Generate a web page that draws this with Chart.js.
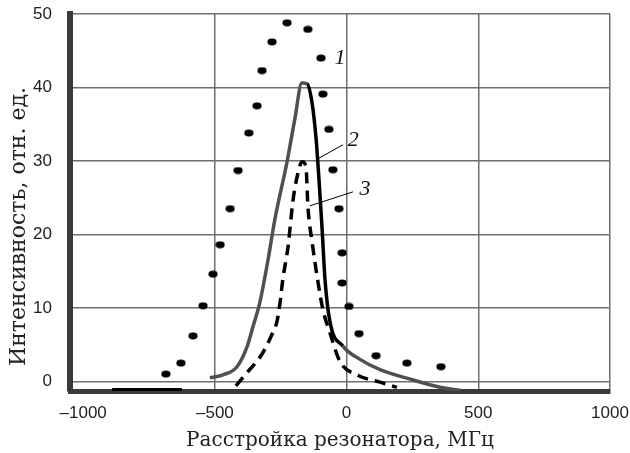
<!DOCTYPE html>
<html>
<head>
<meta charset="utf-8">
<script src="https://cdn.jsdelivr.net/npm/chart.js@4/dist/chart.umd.min.js"></script>
<style>
    html, body { margin: 0; padding: 0; background: #fff; }
    #wrap { width: 630px; height: 453px; }
</style>
</head>
<body>
<div id="wrap"><canvas id="resonanceChart"></canvas></div>
<script>
// --- Data ---
const xTicks = [-1000, -500, 0, 500, 1000];
const yTicks = [0, 10, 20, 30, 40, 50];
const xTitle = 'Расстройка резонатора, МГц';
const yTitle = 'Интенсивность, отн. ед.';

// curve 1: dots
const curve1X = [-686, -629, -583, -545, -507, -480, -442, -412, -371, -340, -321, -283, -226,
    -147, -97, -90, -67, -52, -29, -17, -17, 9, 47, 112, 229, 358];
const curve1Y = [1.0, 2.5, 6.2, 10.3, 14.6, 18.6, 23.5, 28.7, 33.8, 37.5, 42.3, 46.2, 48.8,
    47.9, 44.0, 39.1, 34.3, 28.8, 23.5, 17.5, 13.4, 10.2, 6.5, 3.5, 2.5, 2.0];

// curve 2: solid
const curve2X = [-519, -469, -416, -378, -355, -329, -298, -272, -226, -196, -170, -150,
    -131, -116, -105, -93, -82, -63, -14, 51, 127, 252, 355, 431];
const curve2Y = [0.5, 0.9, 2.0, 4.7, 7.5, 10.8, 16.6, 22.1, 29.9, 35.8, 40.6, 40.5,
    37.9, 33.1, 27.6, 20.8, 13.9, 8.1, 4.8, 3.0, 1.6, 0.2, -0.8, -1.2];

// curve 3: dashed
const curve3X = [-420, -378, -325, -287, -264, -253, -242, -222, -204, -185, -169, -154, -147,
    -131, -112, -90, -63, -25, 39, 127, 191];
const curve3Y = [-0.6, 1.2, 3.5, 6.1, 8.2, 10.6, 13.9, 18.4, 24.5, 28.3, 29.9, 29.2, 23.9,
    19.0, 14.3, 9.8, 6.6, 2.7, 0.9, -0.1, -0.8];

// black stroke lying on the axis at the left
const baseX = [-890, -625];
const baseY = [-1.15, -1.15];

// curve numbers and their leader lines
const curveLabels = ['1', '2', '3'];
const curveLabelX = [-25, 25, 70];
const curveLabelY = [44.0, 32.8, 26.1];
const leader2X = [-109, -14];
const leader2Y = [30.3, 32.2];
const leader3X = [-139, 24];
const leader3Y = [23.9, 25.8];

function toPoints(xs, ys) {
    return xs.map((x, i) => ({ x: x, y: ys[i] }));
}

// slightly flattened dot like in the print
const dot = document.createElement('canvas');
dot.width = 10;
dot.height = 8;
(function () {
    const c = dot.getContext('2d');
    c.fillStyle = '#000';
    c.beginPath();
    c.ellipse(5, 4, 4.6, 3.4, 0, 0, Math.PI * 2);
    c.fill();
})();

// curve numbers + vertical axis title (placed a bit lower than centre, as printed)
const annotations = {
    id: 'annotations',
    afterDatasetsDraw(chart) {
        const ctx = chart.ctx;
        const xs = chart.scales.x, ys = chart.scales.y;
        ctx.save();
        ctx.fillStyle = '#111';
        ctx.font = 'italic 22px "Liberation Serif"';
        ctx.textAlign = 'center';
        ctx.textBaseline = 'middle';
        curveLabels.forEach((t, i) => {
            ctx.fillText(t, xs.getPixelForValue(curveLabelX[i]), ys.getPixelForValue(curveLabelY[i]));
        });
        ctx.restore();
    },
    afterDraw(chart) {
        const ctx = chart.ctx;
        const area = chart.chartArea;
        ctx.save();
        ctx.translate(19, (area.top + area.bottom) / 2 + 24);
        ctx.rotate(-Math.PI / 2);
        ctx.fillStyle = '#222';
        ctx.font = '22px "DejaVu Serif"';
        ctx.textAlign = 'center';
        ctx.textBaseline = 'middle';
        ctx.fillText(yTitle, 0, 0);
        ctx.restore();
    }
};

const ctx = document.getElementById('resonanceChart').getContext('2d');
new Chart(ctx, {
    type: 'line',
    data: {
        datasets: [
            {
                label: '1',
                data: toPoints(curve1X, curve1Y),
                showLine: false,
                pointStyle: dot,
                pointRadius: 4
            },
            {
                label: '2',
                data: toPoints(curve2X, curve2Y),
                borderColor: '#505050',
                borderWidth: 3.5,
                pointRadius: 0,
                cubicInterpolationMode: 'monotone',
                segment: {
                    borderColor: c => (c.p0.parsed.x >= -150 && c.p0.parsed.x < -60) ? '#000' : '#505050'
                }
            },
            {
                label: '3',
                data: toPoints(curve3X, curve3Y),
                borderColor: '#000',
                borderWidth: 3.5,
                borderDash: [11, 7],
                pointRadius: 0,
                cubicInterpolationMode: 'monotone'
            },
            {
                label: 'base',
                data: toPoints(baseX, baseY),
                borderColor: '#000',
                borderWidth: 4,
                pointRadius: 0
            },
            {
                label: 'leader 2',
                data: toPoints(leader2X, leader2Y),
                borderColor: '#000',
                borderWidth: 1,
                pointRadius: 0
            },
            {
                label: 'leader 3',
                data: toPoints(leader3X, leader3Y),
                borderColor: '#000',
                borderWidth: 1,
                pointRadius: 0
            }
        ]
    },
    options: {
        responsive: true,
        maintainAspectRatio: false,
        animation: false,
        layout: { padding: { left: 0, right: 20, top: 14, bottom: 0 } },
        plugins: {
            legend: { display: false },
            tooltip: { enabled: false }
        },
        scales: {
            x: {
                type: 'linear',
                min: -1050,
                max: 1000,
                afterFit: s => { s.height = 62; s.paddingLeft = 0; s.paddingRight = 0; },
                afterBuildTicks: s => { s.ticks = xTicks.map(v => ({ value: v })); },
                border: { color: '#3a3a3a', width: 5 },
                grid: {
                    drawTicks: false,
                    lineWidth: 1.5,
                    color: c => (c.tick && c.tick.value === -1000) ? 'rgba(0,0,0,0)' : '#6e6e6e'
                },
                ticks: {
                    padding: 12,
                    color: '#222',
                    font: { family: '"Liberation Sans"', size: 17 },
                    callback: v => (v < 0 ? '\u2013' + Math.abs(v) : String(v))
                },
                title: {
                    display: true,
                    text: xTitle,
                    color: '#222',
                    font: { family: '"DejaVu Serif"', size: 20 },
                    padding: { top: 0, bottom: 0 }
                }
            },
            y: {
                min: -1.3,
                max: 50,
                afterFit: s => { s.width = 70; s.paddingTop = 0; s.paddingBottom = 0; },
                afterBuildTicks: s => { s.ticks = yTicks.map(v => ({ value: v })); },
                border: { color: '#3a3a3a', width: 6 },
                grid: {
                    drawTicks: false,
                    lineWidth: 1.5,
                    color: '#6e6e6e'
                },
                ticks: {
                    padding: 18,
                    color: '#222',
                    font: { family: '"Liberation Sans"', size: 17 }
                }
            }
        }
    },
    plugins: [annotations]
});
</script>
</body>
</html>
